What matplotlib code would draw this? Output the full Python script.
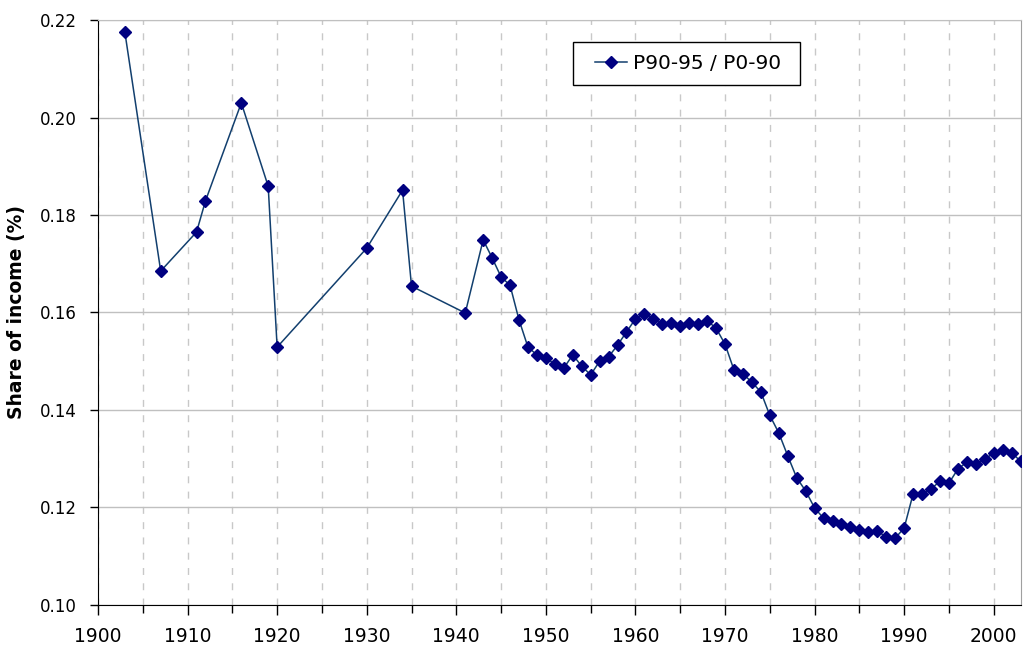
import numpy as np
import matplotlib
matplotlib.use("Agg")
import matplotlib.pyplot as plt
from matplotlib.patches import Rectangle
from matplotlib.ticker import MultipleLocator, FormatStrFormatter

# ---------------------------------------------------------------
# Data
years = [1903, 1907, 1911, 1912, 1916, 1919, 1920, 1930, 1934, 1935,
         1941, 1943, 1944, 1945, 1946, 1947, 1948, 1949, 1950, 1951,
         1952, 1953, 1954, 1955, 1956, 1957, 1958, 1959, 1960, 1961,
         1962, 1963, 1964, 1965, 1966, 1967, 1968, 1969, 1970, 1971,
         1972, 1973, 1974, 1975, 1976, 1977, 1978, 1979, 1980, 1981,
         1982, 1983, 1984, 1985, 1986, 1987, 1988, 1989, 1990, 1991,
         1992, 1993, 1994, 1995, 1996, 1997, 1998, 1999, 2000, 2001,
         2002, 2003]
share = [0.2175, 0.1685, 0.1765, 0.1829, 0.2030, 0.1859, 0.1529, 0.1732, 0.1851, 0.1654,
         0.1599, 0.1749, 0.1712, 0.1673, 0.1656, 0.1585, 0.1529, 0.1513, 0.1507, 0.1494,
         0.1486, 0.1513, 0.1490, 0.1472, 0.1500, 0.1509, 0.1533, 0.1560, 0.1587, 0.1597,
         0.1587, 0.1576, 0.1578, 0.1572, 0.1578, 0.1576, 0.1583, 0.1568, 0.1535, 0.1482,
         0.1474, 0.1457, 0.1437, 0.1389, 0.1353, 0.1306, 0.1261, 0.1234, 0.1199, 0.1178,
         0.1172, 0.1166, 0.1160, 0.1154, 0.1150, 0.1152, 0.1139, 0.1137, 0.1158, 0.1228,
         0.1228, 0.1238, 0.1254, 0.1250, 0.1279, 0.1293, 0.1289, 0.1299, 0.1312, 0.1318,
         0.1312, 0.1295]
series_label = "P90-95 / P0-90"

# ---------------------------------------------------------------
# Figure
fig = plt.figure(figsize=(10.24, 6.48), dpi=100)
ax = fig.add_axes([0.0957, 0.0664, 0.901, 0.9027])

ax.plot(years, share, color="#123f6e", linewidth=1.1,
        marker="D", markersize=6, markerfacecolor="#000080",
        markeredgecolor="#000080", label=series_label, zorder=3)

# Axis's
ax.set_xlim(1900, 2003)
ax.set_ylim(0.10, 0.22)
ax.xaxis.set_major_locator(MultipleLocator(10))
ax.xaxis.set_minor_locator(MultipleLocator(5))
ax.yaxis.set_major_locator(MultipleLocator(0.02))
ax.yaxis.set_major_formatter(FormatStrFormatter("%.2f"))

ax.tick_params(axis="both", which="both", direction="out", length=6,
               width=1, color="black")
ax.tick_params(axis="y", labelsize=12, pad=9)
ax.tick_params(axis="x", labelsize=13.5, pad=9)
ax.tick_params(axis="x", which="major", length=7)

ax.grid(True, axis="x", which="both", linestyle=(0, (5, 6)),
        color="#c8c8c8", linewidth=1)
ax.grid(True, axis="y", which="major", linestyle="-",
        color="#c0c0c0", linewidth=1)
ax.set_axisbelow(True)

ax.spines["right"].set_color("#a0a0a0")
ax.spines["top"].set_color("#c0c0c0")
ax.spines["left"].set_color("black")
ax.spines["bottom"].set_color("black")

ax.set_ylabel("Share of income (%)", fontsize=13.5, fontweight="bold")
ax.yaxis.set_label_coords(-0.078, 0.5)

# legend: separate box so the side padding can be wider than the top/bottom
ax.add_patch(Rectangle((0.5146, 0.8889), 0.246, 0.0735, transform=ax.transAxes,
                       facecolor="white", edgecolor="black", linewidth=1,
                       zorder=4))
leg = ax.legend(loc="center left", bbox_to_anchor=(0.5385, 0.9256),
                borderaxespad=0, borderpad=0, fontsize=14.5, frameon=False,
                handlelength=1.6, handletextpad=0.3)
leg.set_zorder(5)

plt.savefig("out.png", dpi=100)
plt.close()
